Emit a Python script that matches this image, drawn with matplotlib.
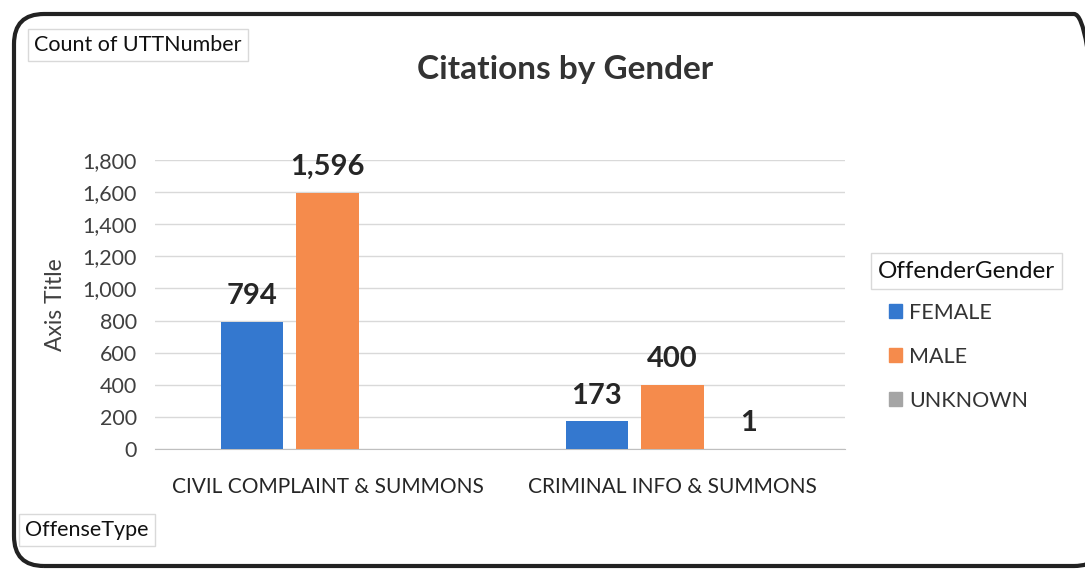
import matplotlib
matplotlib.use("Agg")
import matplotlib.pyplot as plt
import matplotlib.patches as mpatches
from matplotlib.transforms import IdentityTransform
import numpy as np

categories = ["CIVIL COMPLAINT & SUMMONS", "CRIMINAL INFO & SUMMONS"]
series_names = ["FEMALE", "MALE", "UNKNOWN"]
female = [794, 173]
male = [1596, 400]
unknown = [0, 1]
yticks = [0, 200, 400, 600, 800, 1000, 1200, 1400, 1600, 1800]

colors = ["#3478CF", "#F58B4C", "#A5A5A5"]
FONT = ["Lato", "DejaVu Sans"]
plt.rcParams['font.family'] = FONT

W, H = 1085, 580
fig = plt.figure(figsize=(W / 100, H / 100), dpi=100)
fig.patch.set_facecolor("white")

ax = fig.add_axes([155 / W, 1 - 449 / H, 690 / W, 289 / H])
x = np.arange(len(categories))
bw = 0.18
off = 0.22
data = [female, male, unknown]
for i, (vals, name, c) in enumerate(zip(data, series_names, colors)):
    bars = ax.bar(x + (i - 1) * off, vals, width=bw, color=c, label=name, zorder=3)
    labels = ["{:,}".format(v) if v > 0 else "" for v in vals]
    ax.bar_label(bars, labels=labels, padding=9, fontsize=21, fontweight="bold",
                 color="#262626")

ax.set_xlim(-0.5, 1.5)
ax.set_ylim(0, 1800)
ax.set_yticks(yticks)
ax.set_yticklabels(["{:,}".format(v) for v in yticks], fontsize=15.5, color="#404040")
ax.set_xticks(x)
ax.set_xticklabels(categories, fontsize=15, color="#262626")
ax.tick_params(axis="both", length=0)
ax.tick_params(axis="y", pad=13)
ax.tick_params(axis="x", pad=20)
ax.grid(axis="y", color="#d9d9d9", linewidth=1, zorder=0)
for s in ["top", "right", "left"]:
    ax.spines[s].set_visible(False)
ax.spines["bottom"].set_color("#bfbfbf")
ax.set_ylabel("Axis Title", fontsize=16.5, color="#404040", labelpad=12)

fig.text(565 / W, 1 - 70 / H, "Citations by Gender", fontsize=24, fontweight="bold",
         color="#333333", ha="center", va="center")

box = dict(boxstyle="square,pad=0.3", facecolor="white", edgecolor="#d9d9d9", linewidth=1)
fig.text(34 / W, 1 - 45 / H, "Count of UTTNumber", fontsize=15.5, color="#111111",
         ha="left", va="center", bbox=box)
fig.text(25 / W, 1 - 530 / H, "OffenseType", fontsize=15.5, color="#111111",
         ha="left", va="center", bbox=box)
fig.text(878 / W, 1 - 271 / H, "OffenderGender", fontsize=17.5, color="#111111",
         ha="left", va="center", bbox=box)

handles = [mpatches.Patch(color=c) for c in colors]
fig.legend(handles, series_names, loc="upper left",
           bbox_to_anchor=(880 / W, 1 - 294 / H), frameon=False, fontsize=15.5,
           handlelength=0.6, handleheight=0.6, handletextpad=0.35,
           labelspacing=1.12, borderaxespad=0, labelcolor="#333333")

frame = mpatches.FancyBboxPatch((14, H - 566), 1090, 552,
                                boxstyle="round,pad=0,rounding_size=30",
                                transform=IdentityTransform(), facecolor="none",
                                edgecolor="#222222", linewidth=3)
fig.patches.append(frame)

fig.savefig("out.png", dpi=100, facecolor="white")
